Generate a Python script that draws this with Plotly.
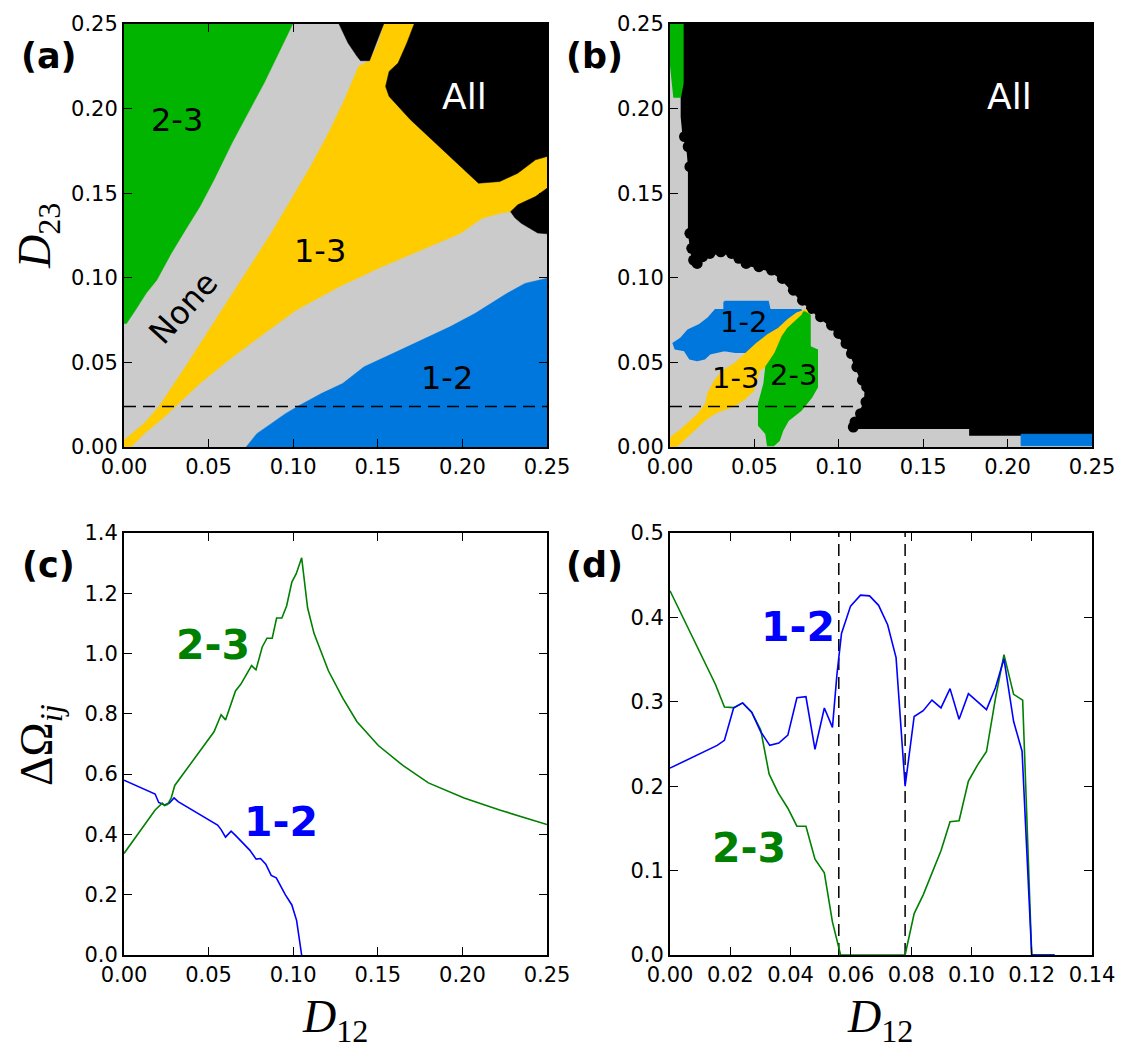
import plotly.graph_objects as go

# ---------------- colours ----------------
GRAY = "#cbcbcb"
GREEN = "#00b400"
YELLOW = "#ffcc00"
BLUE = "#0077dd"
BLACK = "#000000"

# ---------------- panel (a): region boundaries (D12, D23) ----------------
a_green_x = [0, 0, 0.0997, 0.0828, 0.0743, 0.0638, 0.0532, 0.0448, 0.0363, 0.0279, 0.0194, 0.0131, 0.0068, 0.0015]
a_green_y = [0.073, 0.25, 0.25, 0.2151, 0.1993, 0.1796, 0.1579, 0.142, 0.1283, 0.1144, 0.0987, 0.0908, 0.0809, 0.073]

a_yellow_x = [0, 0, 0.012, 0.0205, 0.0363, 0.049, 0.0617, 0.0743, 0.087, 0.0986, 0.1102, 0.1208, 0.1303, 0.1387,
              0.1451, 0.146, 0.1503, 0.1535, 0.1715, 0.1672, 0.162, 0.1567, 0.1546, 0.1567, 0.1693, 0.1799, 0.1905,
              0.201, 0.2095, 0.2221, 0.2327, 0.2432, 0.25, 0.25, 0.2432, 0.2327, 0.2285, 0.2221, 0.2116, 0.1989,
              0.1799, 0.1524, 0.1271, 0.1018, 0.0828, 0.0617, 0.0448, 0.03, 0.023, 0.012, 0.004]
a_yellow_y = [0, 0.004, 0.014, 0.0237, 0.0474, 0.0671, 0.0868, 0.1066, 0.1263, 0.146, 0.1657, 0.1855, 0.2052, 0.225,
              0.2283, 0.2299, 0.2388, 0.25, 0.25, 0.2388, 0.2269, 0.222, 0.2131, 0.2072, 0.1934, 0.1835, 0.1736,
              0.1638, 0.1559, 0.1569, 0.1618, 0.1697, 0.1717, 0.1529, 0.148, 0.1431, 0.1391, 0.1381, 0.1352, 0.1263,
              0.1184, 0.1066, 0.0947, 0.0809, 0.0671, 0.0513, 0.0375, 0.0237, 0.017, 0.008, 0]

a_blob_top_x = [0.1271, 0.1324, 0.1377, 0.1398, 0.1451, 0.1482, 0.1514, 0.1535]
a_blob_top_y = [0.25, 0.2388, 0.2309, 0.2283, 0.2283, 0.2368, 0.2447, 0.25]

a_all_x = [0.1715, 0.25, 0.25, 0.2432, 0.2327, 0.2221, 0.2095, 0.201, 0.1905, 0.1799, 0.1693, 0.1567, 0.1546,
           0.1567, 0.162, 0.1672]
a_all_y = [0.25, 0.25, 0.1717, 0.1697, 0.1618, 0.1569, 0.1559, 0.1638, 0.1736, 0.1835, 0.1934, 0.2072, 0.2131,
           0.222, 0.2269, 0.2388]

a_blob_right_x = [0.2285, 0.2327, 0.2432, 0.25, 0.25, 0.2445, 0.2348, 0.231]
a_blob_right_y = [0.1391, 0.1431, 0.148, 0.1529, 0.126, 0.1265, 0.1322, 0.1355]

a_blue_x = [0.0722, 0.0785, 0.087, 0.0954, 0.1039, 0.1166, 0.1292, 0.1419, 0.1588, 0.1757, 0.1926, 0.2074,
            0.2264, 0.237, 0.25, 0.25]
a_blue_y = [0, 0.0079, 0.0138, 0.0197, 0.0247, 0.0316, 0.0375, 0.0474, 0.0552, 0.0631, 0.071, 0.0789,
            0.0908, 0.0967, 0.0997, 0]

# ---------------- panel (b): region boundaries ----------------
b_all_x = [0.0075, 0.25, 0.25, 0.2494, 0.1784, 0.1784, 0.1086, 0.1096, 0.1129, 0.1161, 0.1165, 0.114, 0.1107,
           0.1075, 0.1043, 0.1, 0.0957, 0.0892, 0.0838, 0.0785, 0.0731, 0.0666, 0.0602, 0.0527, 0.0451, 0.0408,
           0.0365, 0.0301, 0.0236, 0.0193, 0.0161, 0.014, 0.0129, 0.0118, 0.0118, 0.0108, 0.0086, 0.0075]
b_all_y = [0.25, 0.25, 0.0075, 0.0079, 0.0079, 0.0118, 0.0118, 0.0148, 0.0197, 0.0266, 0.0355, 0.0395, 0.0474,
           0.0552, 0.0612, 0.0671, 0.072, 0.077, 0.0819, 0.0868, 0.0927, 0.0996, 0.1046, 0.1066, 0.1085, 0.1115,
           0.1144, 0.1154, 0.1144, 0.1125, 0.1085, 0.1105, 0.1174, 0.1263, 0.1657, 0.1776, 0.1835, 0.1953]
# individual boundary dots of the "All" region (scalloped edge)
b_edge_x = [0.1086, 0.1096, 0.1129, 0.1161, 0.1165, 0.114, 0.1107, 0.1075, 0.1043, 0.1, 0.0957, 0.0892, 0.0838,
            0.0785, 0.0731, 0.0666, 0.0602, 0.0527, 0.0451, 0.0408, 0.0365, 0.0301, 0.0236, 0.0193, 0.0161, 0.014,
            0.0129, 0.0118, 0.0118, 0.0108, 0.0086]
b_edge_y = [0.0118, 0.0148, 0.0197, 0.0266, 0.0355, 0.0395, 0.0474, 0.0552, 0.0612, 0.0671, 0.072, 0.077, 0.0819,
            0.0868, 0.0927, 0.0996, 0.1046, 0.1066, 0.1085, 0.1115, 0.1144, 0.1154, 0.1144, 0.1125, 0.1085, 0.1105,
            0.1174, 0.1263, 0.1657, 0.1776, 0.1835]

b_green_top_x = [0.0006, 0.0075, 0.0075, 0.006, 0.0025, 0.0015, 0.0006]
b_green_top_y = [0.25, 0.25, 0.215, 0.207, 0.207, 0.215, 0.225]

b_blue_bot_x = [0.208, 0.25, 0.25, 0.208]
b_blue_bot_y = [0.0008, 0.0008, 0.0075, 0.0075]

b_blue_x = [0.0322, 0.058, 0.0591, 0.0774, 0.0785, 0.0731, 0.0688, 0.0656, 0.0591, 0.0548, 0.0484, 0.0387,
            0.0322, 0.0236, 0.0204, 0.0161, 0.0118, 0.0086, 0.0032, 0.0021, 0.0064, 0.0107, 0.0172, 0.0226,
            0.0269, 0.0322]
b_blue_y = [0.0858, 0.0858, 0.0809, 0.0809, 0.0779, 0.075, 0.07, 0.0661, 0.0651, 0.0631, 0.0562, 0.0562,
            0.0572, 0.0552, 0.0523, 0.0513, 0.0523, 0.0572, 0.0582, 0.0612, 0.0641, 0.069, 0.072, 0.076,
            0.0809, 0.0809]

b_yellow_x = [0, 0.001, 0.0064, 0.0118, 0.0172, 0.0215, 0.0226, 0.0269, 0.0322, 0.0387, 0.0451, 0.0516, 0.058,
              0.0645, 0.0699, 0.0752, 0.0806, 0.0828, 0.0774, 0.0731, 0.0688, 0.0645, 0.0602, 0.0559, 0.0527,
              0.0494, 0.0441, 0.0365, 0.0301, 0.0258, 0.0215, 0.015, 0.0097, 0.0043]
b_yellow_y = [0, 0.0059, 0.0099, 0.0148, 0.0197, 0.0257, 0.0316, 0.0395, 0.0454, 0.0493, 0.0552, 0.0612, 0.0661,
              0.07, 0.075, 0.0789, 0.0809, 0.077, 0.074, 0.07, 0.0651, 0.0592, 0.0533, 0.0474, 0.0454,
              0.0335, 0.0286, 0.0237, 0.0217, 0.0197, 0.0168, 0.0109, 0.0059, 0.001]

b_green_x = [0.0795, 0.0828, 0.0828, 0.0871, 0.0871, 0.0838, 0.0806, 0.0774, 0.0699, 0.0666, 0.0645, 0.0613,
             0.058, 0.057, 0.0527, 0.0527, 0.0559, 0.057, 0.0623, 0.0666, 0.0699, 0.0752, 0.0785]
b_green_y = [0.0799, 0.0779, 0.0592, 0.0572, 0.0355, 0.0296, 0.0257, 0.0217, 0.0158, 0.0099, 0.0039, 0.001,
             0.001, 0.0079, 0.0128, 0.0257, 0.0375, 0.0474, 0.0552, 0.0651, 0.07, 0.075, 0.0779]

D23_CUT = 0.024        # dashed line in (a) and (b)
B_CUT_END = 0.112      # dashed line end in (b)

# ---------------- panel (c) ----------------
c12_x = [0, 0.0184, 0.0205, 0.024, 0.0268, 0.0296, 0.032, 0.0384, 0.049, 0.0553, 0.0574, 0.060, 0.0633, 0.0659,
         0.0743, 0.0781, 0.0807, 0.0838, 0.087, 0.090, 0.0954, 0.0992, 0.102, 0.105]
c12_y = [0.58, 0.534, 0.506, 0.498, 0.504, 0.521, 0.509, 0.487, 0.453, 0.431, 0.416, 0.391, 0.411, 0.397,
         0.348, 0.318, 0.320, 0.301, 0.264, 0.256, 0.1995, 0.166, 0.115, 0.0]
c23_x = [0, 0.0184, 0.0226, 0.024, 0.0258, 0.0279, 0.030, 0.0363, 0.0448, 0.0532, 0.0574, 0.060, 0.0659, 0.069,
         0.0754, 0.078, 0.0817, 0.0845, 0.0876, 0.0902, 0.0933, 0.0961, 0.0992, 0.1018, 0.105, 0.1085, 0.1123,
         0.1208, 0.1292, 0.1377, 0.1503, 0.165, 0.1799, 0.201, 0.222, 0.25]
c23_y = [0.337, 0.481, 0.504, 0.496, 0.500, 0.521, 0.5625, 0.611, 0.673, 0.7405, 0.797, 0.780, 0.876, 0.898,
         0.960, 0.946, 1.022, 1.051, 1.051, 1.118, 1.118, 1.158, 1.237, 1.265, 1.318, 1.152, 1.067,
         0.943, 0.853, 0.774, 0.695, 0.628, 0.571, 0.521, 0.481, 0.433]

# ---------------- panel (d) ----------------
d12_x = [0, 0.01565, 0.01806, 0.0211, 0.0241, 0.0271, 0.0301, 0.0331, 0.0361, 0.0391, 0.0421, 0.0451, 0.0481,
         0.0512, 0.0539, 0.0554, 0.0569, 0.0599, 0.0632, 0.0662, 0.0692, 0.0722, 0.075, 0.078, 0.081, 0.084,
         0.0869, 0.0899, 0.0929, 0.0959, 0.099, 0.102, 0.105, 0.108, 0.1108, 0.114, 0.1168, 0.12, 0.1276]
d12_y = [0.2214, 0.2484, 0.2544, 0.2927, 0.2987, 0.2878, 0.2645, 0.2484, 0.2512, 0.2605, 0.3047, 0.306, 0.2436,
         0.2927, 0.2697, 0.333, 0.381, 0.4134, 0.4263, 0.4255, 0.4143, 0.3913, 0.3523, 0.2, 0.2826, 0.2895,
         0.302, 0.2927, 0.3156, 0.2794, 0.3096, 0.3007, 0.2907, 0.3169, 0.351, 0.2766, 0.2415, 0.0, 0.0]
d23_x = [0, 0.01505, 0.01806, 0.0211, 0.0241, 0.0271, 0.0301, 0.0329, 0.0359, 0.0391, 0.0421, 0.0451, 0.0481,
         0.0512, 0.0539, 0.0566, 0.078, 0.081, 0.084, 0.0869, 0.0899, 0.0929, 0.0959, 0.099, 0.102, 0.105, 0.108,
         0.1108, 0.114, 0.117, 0.12, 0.1276]
d23_y = [0.4316, 0.3208, 0.2939, 0.2931, 0.2987, 0.2878, 0.2665, 0.2142, 0.192, 0.1739, 0.1526, 0.1526, 0.1135,
         0.0974, 0.039, 0.0, 0.0, 0.0491, 0.0713, 0.0974, 0.1236, 0.1578, 0.159, 0.2061, 0.225, 0.2411, 0.3047,
         0.3559, 0.3088, 0.302, 0.0, 0.0]
d_vlines = [0.056, 0.078]

# ---------------- tick labels ----------------
ticks_025 = [0, 0.05, 0.10, 0.15, 0.20, 0.25]
ticks_025_txt = ["0.00", "0.05", "0.10", "0.15", "0.20", "0.25"]
ticks_c_y = [0, 0.2, 0.4, 0.6, 0.8, 1.0, 1.2, 1.4]
ticks_c_y_txt = ["0.0", "0.2", "0.4", "0.6", "0.8", "1.0", "1.2", "1.4"]
ticks_d_x = [0, 0.02, 0.04, 0.06, 0.08, 0.10, 0.12, 0.14]
ticks_d_x_txt = ["0.00", "0.02", "0.04", "0.06", "0.08", "0.10", "0.12", "0.14"]
ticks_d_y = [0, 0.1, 0.2, 0.3, 0.4, 0.5]
ticks_d_y_txt = ["0.0", "0.1", "0.2", "0.3", "0.4", "0.5"]

W, H = 1131, 1054
fig = go.Figure()


def poly(xs, ys, color, xa, ya, lw=0.5):
    fig.add_trace(go.Scatter(x=xs + xs[:1], y=ys + ys[:1], xaxis=xa, yaxis=ya, mode="lines",
                             fill="toself", fillcolor=color, line=dict(color=color, width=lw),
                             hoverinfo="skip", showlegend=False))


def line(xs, ys, color, xa, ya, width=1.6, dash=None):
    fig.add_trace(go.Scatter(x=xs, y=ys, xaxis=xa, yaxis=ya, mode="lines",
                             line=dict(color=color, width=width, dash=dash),
                             hoverinfo="skip", showlegend=False))


# panel (a)
poly(a_green_x, a_green_y, GREEN, "x", "y")
poly(a_yellow_x, a_yellow_y, YELLOW, "x", "y")
poly(a_blob_top_x, a_blob_top_y, BLACK, "x", "y")
poly(a_all_x, a_all_y, BLACK, "x", "y")
poly(a_blob_right_x, a_blob_right_y, BLACK, "x", "y")
poly(a_blue_x, a_blue_y, BLUE, "x", "y")
line([0, 0.25], [D23_CUT, D23_CUT], BLACK, "x", "y", width=1.5, dash="12px,7px")

# panel (b)
poly(b_all_x, b_all_y, BLACK, "x2", "y2", lw=4)
fig.add_trace(go.Scatter(x=b_edge_x, y=b_edge_y, xaxis="x2", yaxis="y2", mode="markers",
                         marker=dict(color=BLACK, size=11, line=dict(width=0)),
                         hoverinfo="skip", showlegend=False))
poly(b_green_top_x, b_green_top_y, GREEN, "x2", "y2", lw=2)
poly(b_blue_bot_x, b_blue_bot_y, BLUE, "x2", "y2", lw=1)
poly(b_blue_x, b_blue_y, BLUE, "x2", "y2", lw=2)
poly(b_yellow_x, b_yellow_y, YELLOW, "x2", "y2", lw=2)
poly(b_green_x, b_green_y, GREEN, "x2", "y2", lw=2)
line([0, B_CUT_END], [D23_CUT, D23_CUT], BLACK, "x2", "y2", width=1.5, dash="12px,7px")

# panel (c)
line(c12_x, c12_y, "#0000ff", "x3", "y3")
line(c23_x, c23_y, "#008000", "x3", "y3")

# panel (d)
for xv in d_vlines:
    line([xv, xv], [0, 0.5], BLACK, "x4", "y4", width=1.5, dash="12px,7px")
line(d23_x, d23_y, "#008000", "x4", "y4")
line(d12_x, d12_y, "#0000ff", "x4", "y4")

# ---------------- layout ----------------
colL = [124 / W, 547 / W]
colR = [670 / W, 1092 / W]
rowT = [1 - 447 / H, 1 - 24 / H]
rowB = [1 - 955 / H, 1 - 533 / H]

tickfont = dict(family="DejaVu Sans", size=21, color="black")


def axis(domain, rng, tv, tt, anchor):
    return dict(domain=domain, range=rng, tickvals=tv, ticktext=tt, anchor=anchor, automargin=False,
                showgrid=False, zeroline=False, showline=True, linecolor="black", linewidth=2,
                mirror="allticks", ticks="inside", ticklen=8, tickwidth=1.2, tickcolor="black",
                tickfont=tickfont, fixedrange=True, layer="above traces")


fig.update_layout(
    width=W, height=H, margin=dict(l=0, r=0, t=0, b=0, autoexpand=False),
    paper_bgcolor="white", plot_bgcolor="white",
    xaxis=axis(colL, [0, 0.25], ticks_025, ticks_025_txt, "y"),
    yaxis=axis(rowT, [0, 0.25], ticks_025, ticks_025_txt, "x"),
    xaxis2=axis(colR, [0, 0.25], ticks_025, ticks_025_txt, "y2"),
    yaxis2=axis(rowT, [0, 0.25], ticks_025, ticks_025_txt, "x2"),
    xaxis3=axis(colL, [0, 0.25], ticks_025, ticks_025_txt, "y3"),
    yaxis3=axis(rowB, [0, 1.4], ticks_c_y, ticks_c_y_txt, "x3"),
    xaxis4=axis(colR, [0, 0.14], ticks_d_x, ticks_d_x_txt, "y4"),
    yaxis4=axis(rowB, [0, 0.5], ticks_d_y, ticks_d_y_txt, "x4"),
)

# gray backgrounds of the phase diagrams
for xr, yr in (("x domain", "y domain"), ("x2 domain", "y2 domain")):
    fig.add_shape(type="rect", xref=xr, yref=yr, x0=0, x1=1, y0=0, y1=1,
                  fillcolor=GRAY, line=dict(width=0), layer="below")

ann = []


def txt(x, y, s, xref, yref, size, color="black", bold=False, angle=0, family="DejaVu Sans"):
    ann.append(dict(x=x, y=y, xref=xref, yref=yref, text=("<b>%s</b>" % s) if bold else s,
                    showarrow=False, textangle=angle, xanchor="center", yanchor="middle",
                    font=dict(family=family, size=size, color=color)))


# region labels (a)
txt(0.0313, 0.193, "2-3", "x", "y", 32)
txt(0.035, 0.082, "None", "x", "y", 32, angle=-48)
txt(0.116, 0.116, "1-3", "x", "y", 32)
txt(0.2015, 0.207, "All", "x", "y", 36, color="white")
txt(0.191, 0.041, "1-2", "x", "y", 32)
# region labels (b)
txt(0.2014, 0.207, "All", "x2", "y2", 36, color="white")
txt(0.0438, 0.074, "1-2", "x2", "y2", 29)
txt(0.039, 0.041, "1-3", "x2", "y2", 29)
txt(0.073, 0.0426, "2-3", "x2", "y2", 29)
# curve labels (c), (d)
txt(0.0526, 1.028, "2-3", "x3", "y3", 41, color="#008000", bold=True)
txt(0.0928, 0.441, "1-2", "x3", "y3", 41, color="#0000ff", bold=True)
txt(0.0425, 0.389, "1-2", "x4", "y4", 41, color="#0000ff", bold=True)
txt(0.0262, 0.127, "2-3", "x4", "y4", 41, color="#008000", bold=True)

# panel letters
for s, px, py in (("(a)", 48.5, 56), ("(b)", 594.5, 56), ("(c)", 48.5, 565), ("(d)", 594.5, 565)):
    txt(px / W, 1 - py / H, s, "paper", "paper", 35, bold=True)

# axis titles
SERIF = "Liberation Serif"
txt(38 / W, 1 - 236 / H, "<i>D</i><sub>23</sub>", "paper", "paper", 46, angle=-90, family=SERIF)
txt(40 / W, 1 - 745 / H, "ΔΩ<sub><i>ij</i></sub>", "paper", "paper", 46, angle=-90, family=SERIF)
txt(335 / W, 1 - 1020 / H, "<i>D</i><sub>12</sub>", "paper", "paper", 46, family=SERIF)
txt(880 / W, 1 - 1020 / H, "<i>D</i><sub>12</sub>", "paper", "paper", 46, family=SERIF)

fig.update_layout(annotations=ann)
fig.write_html("out.html")
